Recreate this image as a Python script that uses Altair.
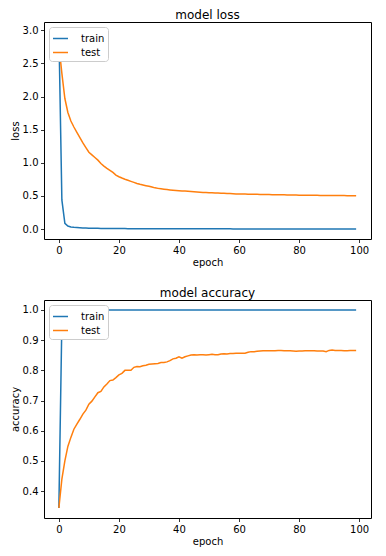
import altair as alt
import pandas as pd

epochs = list(range(100))

loss_train = [
    3.0, 0.44, 0.085, 0.045, 0.032, 0.026, 0.022, 0.019, 0.017, 0.015,
    0.014, 0.013, 0.012, 0.011, 0.010, 0.0095, 0.009, 0.0085, 0.008, 0.0076,
    0.0072, 0.0069, 0.0066, 0.0063, 0.006, 0.0058, 0.0056, 0.0054, 0.0052, 0.005,
    0.0049, 0.0048, 0.0047, 0.0046, 0.0045, 0.0044, 0.0043, 0.0042, 0.0041, 0.004,
    0.0039, 0.0038, 0.0037, 0.0037, 0.0036, 0.0035, 0.0035, 0.0034, 0.0033, 0.0033,
    0.0032, 0.0032, 0.0031, 0.0031, 0.003, 0.003, 0.0029, 0.0029, 0.0028, 0.0028,
    0.0028, 0.0027, 0.0027, 0.0027, 0.0026, 0.0026, 0.0026, 0.0025, 0.0025, 0.0025,
    0.0024, 0.0024, 0.0024, 0.0024, 0.0023, 0.0023, 0.0023, 0.0023, 0.0022, 0.0022,
    0.0022, 0.0022, 0.0021, 0.0021, 0.0021, 0.0021, 0.0021, 0.002, 0.002, 0.002,
    0.002, 0.002, 0.0019, 0.0019, 0.0019, 0.0019, 0.0019, 0.0019, 0.0018, 0.0018,
]

loss_test = [
    2.78, 2.35, 1.97, 1.76, 1.63, 1.54, 1.46, 1.38, 1.30, 1.23,
    1.16, 1.12, 1.08, 1.04, 0.99, 0.95, 0.915, 0.885, 0.855, 0.815,
    0.79, 0.77, 0.752, 0.736, 0.72, 0.705, 0.688, 0.675, 0.664, 0.654,
    0.645, 0.636, 0.622, 0.614, 0.607, 0.601, 0.596, 0.591, 0.587, 0.583,
    0.579, 0.576, 0.573, 0.569, 0.566, 0.562, 0.559, 0.556, 0.553, 0.551,
    0.549, 0.547, 0.545, 0.543, 0.541, 0.539, 0.537, 0.535, 0.533, 0.531,
    0.53, 0.529, 0.528, 0.527, 0.526, 0.525, 0.524, 0.523, 0.522, 0.521,
    0.52, 0.519, 0.518, 0.517, 0.516, 0.516, 0.515, 0.514, 0.514, 0.513,
    0.512, 0.512, 0.511, 0.51, 0.51, 0.509, 0.509, 0.508, 0.508, 0.507,
    0.507, 0.506, 0.506, 0.505, 0.505, 0.505, 0.504, 0.504, 0.504, 0.503,
]

acc_train = [0.344, 0.96, 0.997] + [1.0] * 97

acc_test = [
    0.344, 0.44, 0.50, 0.548, 0.578, 0.605, 0.622, 0.638, 0.655, 0.668,
    0.688, 0.698, 0.712, 0.726, 0.73, 0.745, 0.755, 0.766, 0.768, 0.776,
    0.785, 0.79, 0.80, 0.80, 0.80, 0.81, 0.813, 0.812, 0.815, 0.817,
    0.82, 0.821, 0.822, 0.823, 0.826, 0.826, 0.828, 0.832, 0.838, 0.84,
    0.845, 0.84, 0.845, 0.848, 0.851, 0.852, 0.851, 0.852, 0.852, 0.851,
    0.852, 0.853, 0.852, 0.852, 0.854, 0.855, 0.854, 0.856, 0.856, 0.857,
    0.857, 0.857, 0.857, 0.86, 0.862, 0.862, 0.863, 0.864, 0.865, 0.865,
    0.865, 0.865, 0.865, 0.866, 0.866, 0.865, 0.865, 0.865, 0.864, 0.863,
    0.864, 0.864, 0.865, 0.865, 0.865, 0.865, 0.864, 0.864, 0.864, 0.862,
    0.866, 0.867, 0.866, 0.866, 0.866, 0.865, 0.865, 0.866, 0.866, 0.866,
]

series = ["train", "test"]
colors = ["#1f77b4", "#ff7f0e"]
x_ticks = [0, 20, 40, 60, 80, 100]
loss_ticks = [0.0, 0.5, 1.0, 1.5, 2.0, 2.5, 3.0]
acc_ticks = [0.4, 0.5, 0.6, 0.7, 0.8, 0.9, 1.0]

FONT = "DejaVu Sans"


def panel(train, test, title, ytitle, ydomain, yticks, height):
    df = pd.DataFrame({
        "epoch": epochs * 2,
        "value": train + test,
        "series": ["train"] * len(train) + ["test"] * len(test),
    })
    color = alt.Color(
        "series:N",
        scale=alt.Scale(domain=series, range=colors),
        legend=alt.Legend(
            title=None, orient="none", legendX=5, legendY=5,
            direction="vertical",
        ),
    )
    x = alt.X("epoch:Q", title="epoch",
              scale=alt.Scale(domain=[-4.95, 103.95], nice=False, zero=False),
              axis=alt.Axis(values=x_ticks, format="d",
                            labelFlush=False, labelOverlap=False))
    y = alt.Y("value:Q", title=ytitle,
              scale=alt.Scale(domain=ydomain, nice=False, zero=False),
              axis=alt.Axis(values=yticks, format=".1f", labelOverlap=False))
    layers = [
        alt.Chart(df).transform_filter(alt.datum.series == s)
        .mark_line(strokeWidth=1.5)
        .encode(x=x, y=y, color=color)
        for s in series
    ]
    return alt.layer(*layers).properties(
        width=327, height=height,
        title=alt.TitleParams(title, fontSize=12, font=FONT, fontWeight="normal",
                              color="black", offset=0),
    )


top = panel(loss_train, loss_test, "model loss", "loss", [-0.15, 3.125], loss_ticks, 217)
bottom = panel(acc_train, acc_test, "model accuracy", "accuracy", [0.311, 1.033], acc_ticks, 218)

chart = (
    alt.vconcat(top, bottom, spacing=18)
    .resolve_scale(color="independent")
    .resolve_legend(color="independent")
    .properties(padding={"left": 1, "top": 0, "right": 0, "bottom": 0}, background="white")
    .configure_view(stroke="black", strokeWidth=1)
    .configure_axis(
        domain=False, grid=False,
        tickColor="black", tickSize=3.5, tickWidth=0.8,
        labelColor="black", labelFont=FONT, labelFontSize=10, labelPadding=2.5,
        titleColor="black", titleFont=FONT, titleFontSize=10, titleFontWeight="normal",
        titlePadding=2,
    )
    .configure_legend(
        fillColor="white", strokeColor="#cccccc", cornerRadius=3, padding=3,
        symbolType="stroke", symbolSize=225, symbolStrokeWidth=1.5,
        labelFont=FONT, labelFontSize=10, labelColor="black", labelOffset=12,
        rowPadding=0,
    )
)

chart.save("out.html", embed_options={"renderer": "svg", "actions": False})
